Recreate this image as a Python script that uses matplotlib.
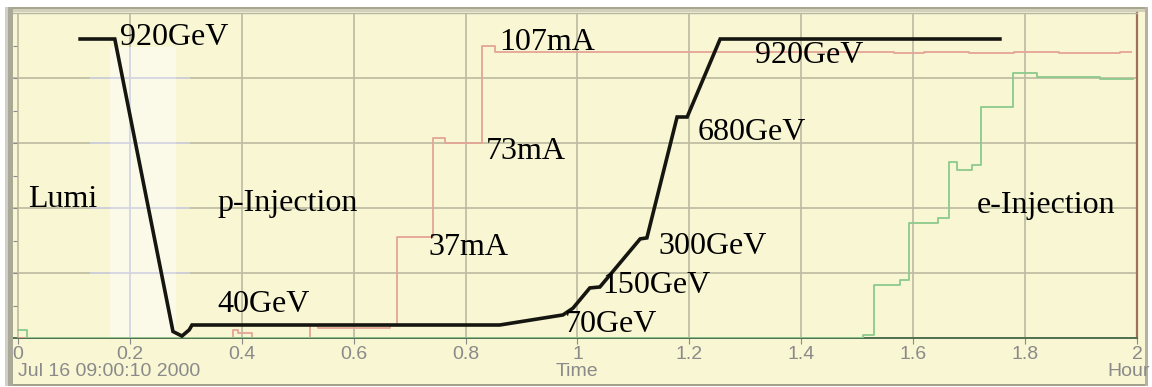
import matplotlib
matplotlib.use("Agg")
import matplotlib.pyplot as plt
from matplotlib.patches import Rectangle

W, H = 1152, 387

# proton energy (black), time in hours
energy_t = [0.111, 0.173, 0.277, 0.293, 0.306, 0.311, 0.861, 0.974, 0.992,
            1.022, 1.040, 1.112, 1.124, 1.178, 1.196, 1.255, 1.755]
energy_gev = [920, 920, 20, 6, 25, 40, 40, 71, 92,
              154, 157, 305, 308, 680, 680, 920, 920]

# proton current (red), mA
p_t = [0.0, 0.384, 0.393, 0.418, 0.522, 0.536, 0.664, 0.677, 0.742, 0.763,
       0.829, 0.853, 1.565, 1.62, 1.70, 1.78, 1.86, 1.97, 1.99]
p_ma = [0, 3.0, 2.0, 0, 4.9, 3.7, 4.9, 37.9, 75.1, 73.2,
        109.6, 107.4, 106.8, 107.4, 106.8, 107.4, 106.8, 107.4, 107.4]

# electron current (green), mA
e_t = [0.0, 0.016, 1.510, 1.530, 1.576, 1.592, 1.644, 1.664, 1.678, 1.705,
       1.721, 1.778, 1.821, 1.934, 1.993]
e_ma = [1.2, 0, 0.5, 8.15, 8.9, 17.7, 18.5, 27.1, 25.8, 26.6,
        35.5, 40.8, 40.2, 39.8, 39.8]

# annotations: (text, t, energy-axis position)
labels = [
    ("920GeV", 0.182, 901), ("Lumi", 0.018, 403), ("p-Injection", 0.356, 391),
    ("40GeV", 0.356, 80), ("37mA", 0.733, 255), ("73mA", 0.836, 551),
    ("107mA", 0.861, 886), ("920GeV", 1.317, 846), ("680GeV", 1.214, 609),
    ("300GeV", 1.144, 258), ("150GeV", 1.044, 138), ("70GeV", 0.978, 18),
    ("e-Injection", 1.714, 385),
]

x_ticks = [0, 0.2, 0.4, 0.6, 0.8, 1.0, 1.2, 1.4, 1.6, 1.8, 2.0]
x_tick_labels = ["0", "0.2", "0.4", "0.6", "0.8", "1", "1.2", "1.4", "1.6", "1.8", "2"]

BG = "#f8f6d3"
GRID = "#bdbaa0"
GRAY = "#8a8a8a"


def fx(px):
    return px / W


def fy(py):
    return 1 - py / H


def frect(fig, x0, y0, w, h, color, z=-5):
    fig.patches.append(Rectangle((fx(x0), fy(y0 + h)), w / W, h / H,
                                 transform=fig.transFigure, color=color,
                                 zorder=z, lw=0))


fig = plt.figure(figsize=(W / 100, H / 100), dpi=100)
fig.patch.set_facecolor("white")

# panel with borders
frect(fig, 5, 7, 1142, 379, BG)
frect(fig, 5, 7, 1142, 2, "#a7a58e")
frect(fig, 5, 9, 1142, 3, "#d2d0bb")
frect(fig, 5, 384, 1142, 2, "#a3a18c")
frect(fig, 1145, 7, 3, 379, "#b5b3a0")

ax = fig.add_axes([fx(13), fy(338), (1137 - 13) / W, (338 - 13) / H])
ax.set_facecolor(BG)
ax.set_xlim(-5 / 559.5, 2)
ax.set_ylim(0, 1000)

ax.set_xticks(x_ticks)
ax.set_xticklabels(x_tick_labels, family="Liberation Sans", fontsize=14, color=GRAY)
ax.set_yticks([200, 400, 600, 800])
ax.set_yticks([100, 300, 500, 700, 900], minor=True)
ax.set_yticklabels([])
ax.tick_params(axis="x", direction="out", length=4.3, width=0.8, color=GRAY, pad=1.5)
ax.tick_params(axis="y", which="both", direction="in", length=3, width=0.8, color=GRAY)
ax.grid(True, which="major", color=GRID, lw=1.2)
ax.set_axisbelow(True)

# lighter stripe during the Lumi end
ax.axvspan(0.164, 0.282, ymin=0.003, ymax=0.895, color="#fbf9e8", lw=0, zorder=0.6)
ax.hlines([200, 400, 600, 800], 0.129, 0.307, color="#d2d2e2", lw=1.2, zorder=0.7)
ax.vlines([0.2], 3, 895, color="#d2d2e2", lw=1.2, zorder=0.7)

ax.spines["top"].set_color("#b8b6a0")
ax.spines["top"].set_linewidth(1.0)
ax.spines["left"].set_visible(False)
ax.spines["bottom"].set_color("#4f6f4f")
ax.spines["bottom"].set_linewidth(1.4)
ax.spines["right"].set_color("#a0705a")
ax.spines["right"].set_linewidth(1.6)

# currents on their own hidden scales
ax_p = ax.twinx()
ax_e = ax.twinx()
ax_top = ax.twinx()
for a in (ax_p, ax_e, ax_top):
    a.yaxis.set_visible(False)
    for s in a.spines.values():
        s.set_visible(False)

ax_p.set_ylim(0, 122)
ax_p.plot(p_t, p_ma, drawstyle="steps-post", color="#e3a596", lw=1.3)
ax_e.set_ylim(0, 50)
ax_e.plot(e_t, e_ma, drawstyle="steps-post", color="#8cc98c", lw=1.3)

ax_top.set_ylim(0, 1000)
ax_top.plot(energy_t, energy_gev, color="#161610", lw=2.6, solid_joinstyle="miter")
for txt, t, e in labels:
    ax_top.text(t, e, txt, family="Liberation Serif", fontsize=23, color="black",
                ha="left", va="baseline")

# left bevel bar
frect(fig, 5, 7, 3, 379, "#d0d0c6", z=10)
frect(fig, 8, 7, 5, 379, "#aaa896", z=10)

fig.text(fx(18), fy(363), "Jul 16 09:00:10 2000", family="Liberation Sans",
         fontsize=14, color=GRAY, ha="left", va="top")
fig.text(fx(577), fy(363), "Time", family="Liberation Sans",
         fontsize=14, color=GRAY, ha="center", va="top")
fig.text(fx(1150), fy(363), "Hour", family="Liberation Sans",
         fontsize=14, color=GRAY, ha="right", va="top")

fig.savefig("out.png", dpi=100)
plt.close(fig)
